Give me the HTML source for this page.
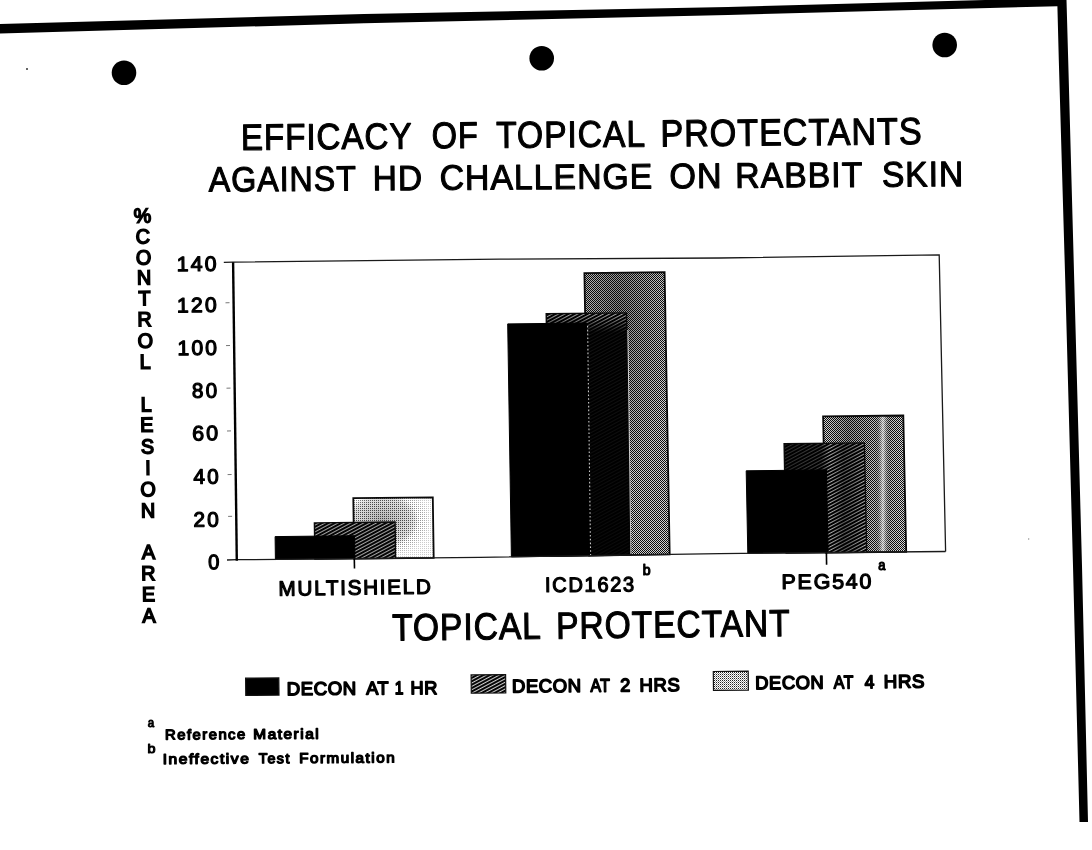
<!DOCTYPE html>
<html lang="en"><head><meta charset="utf-8"><title>Efficacy of Topical Protectants Against HD Challenge on Rabbit Skin</title>
<style>
html,body{margin:0;padding:0;background:#fff;}
body{width:1092px;height:850px;overflow:hidden;position:relative;}
svg{position:absolute;left:0;top:0;display:block;}
text{font-family:"Liberation Sans",sans-serif;fill:#000;}
</style></head>
<body>
<svg width="1092" height="850" viewBox="0 0 1092 850">
<defs>
<pattern id="h1" width="3.0" height="3.0" patternUnits="userSpaceOnUse" patternTransform="rotate(-28)"><rect width="3.0" height="3.0" fill="#fff"/><rect width="3.0" height="2.2" fill="#050505"/></pattern>
<pattern id="h2" width="3.0" height="3.0" patternUnits="userSpaceOnUse" patternTransform="rotate(-28)"><rect width="3.0" height="3.0" fill="#fff"/><rect width="3.0" height="2.0" fill="#000"/></pattern>
<pattern id="h3" width="3.0" height="3.0" patternUnits="userSpaceOnUse" patternTransform="rotate(-28)"><rect width="3.0" height="3.0" fill="#f4f4f4"/><rect width="3.0" height="2.1" fill="#000"/></pattern>
<pattern id="d1" width="2" height="2" patternUnits="userSpaceOnUse"><rect width="2" height="2" fill="#fff"/><rect width="1" height="1" fill="#555"/></pattern>
<pattern id="d2" width="2" height="2" patternUnits="userSpaceOnUse"><rect width="2" height="2" fill="#d0d0d0"/><rect width="1" height="1" fill="#0c0c0c"/><rect x="1" y="1" width="1" height="1" fill="#0c0c0c"/></pattern>
<pattern id="d3" width="2" height="2" patternUnits="userSpaceOnUse"><rect width="2" height="2" fill="#dcdcdc"/><rect width="1" height="1" fill="#0c0c0c"/><rect x="1" y="1" width="1" height="1" fill="#0c0c0c"/></pattern>
<pattern id="d4" width="2" height="2" patternUnits="userSpaceOnUse"><rect width="2" height="2" fill="#fff"/><rect width="1" height="1" fill="#222"/><rect x="1" y="1" width="1" height="1" fill="#999"/></pattern>
<radialGradient id="g1" cx="0.36" cy="0.38" r="0.6"><stop offset="0" stop-color="#000" stop-opacity="0.3"/><stop offset="0.5" stop-color="#000" stop-opacity="0.15"/><stop offset="0.75" stop-color="#fff" stop-opacity="0.3"/><stop offset="1" stop-color="#fff" stop-opacity="0.7"/></radialGradient>
<radialGradient id="g2" cx="0.4" cy="0.15" r="0.6"><stop offset="0" stop-color="#000" stop-opacity="0.35"/><stop offset="1" stop-color="#000" stop-opacity="0.0"/></radialGradient>
<linearGradient id="g3" x1="0" x2="1" y1="0" y2="0"><stop offset="0" stop-color="#000" stop-opacity="0.0"/><stop offset="0.3" stop-color="#000" stop-opacity="0.3"/><stop offset="0.62" stop-color="#000" stop-opacity="0.1"/><stop offset="0.72" stop-color="#fff" stop-opacity="0.6"/><stop offset="0.82" stop-color="#000" stop-opacity="0.1"/><stop offset="1" stop-color="#000" stop-opacity="0.0"/></linearGradient>
<linearGradient id="o2" x1="0" x2="0" y1="0" y2="1"><stop offset="0" stop-color="#000" stop-opacity="0.3"/><stop offset="0.035" stop-color="#000" stop-opacity="0.55"/><stop offset="0.08" stop-color="#000" stop-opacity="0.93"/><stop offset="1" stop-color="#000" stop-opacity="0.96"/></linearGradient>
<linearGradient id="o3" x1="0" x2="1" y1="0" y2="0"><stop offset="0" stop-color="#000" stop-opacity="0.8"/><stop offset="0.45" stop-color="#000" stop-opacity="0.7"/><stop offset="0.56" stop-color="#000" stop-opacity="0.2"/><stop offset="0.72" stop-color="#000" stop-opacity="0.55"/><stop offset="0.86" stop-color="#000" stop-opacity="0.4"/><stop offset="1" stop-color="#000" stop-opacity="0.15"/></linearGradient>
<linearGradient id="o1" x1="0" x2="1" y1="0" y2="0"><stop offset="0" stop-color="#000" stop-opacity="0.2"/><stop offset="1" stop-color="#000" stop-opacity="0.2"/></linearGradient>
</defs>
<rect width="1092" height="850" fill="#fff"/>
<g id="shapes">
<polygon points="0,24 364,14 728,7 985,0 1066.5,0 1068.2,60 1074.3,283 1082,566 1088,822 1079.5,822 1073,566 1065.3,283 1058.8,60 1057.4,6.2 728,15 364,23.3 0,33.5" fill="#000"/>
<circle cx="124" cy="72.7" r="12.3" fill="#000"/>
<circle cx="541.7" cy="58.3" r="12.3" fill="#000"/>
<circle cx="944.7" cy="45" r="12.3" fill="#000"/>
<circle cx="27" cy="69" r="1" fill="#333"/>
<circle cx="1028.7" cy="539" r="0.7" fill="#888"/>
<polygon points="353.3,498.2 432.8,497.3 433.7,557.8 354.1,558.6" fill="url(#d1)"/>
<polygon points="353.3,498.2 432.8,497.3 433.7,557.8 354.1,558.6" fill="url(#g1)" stroke="#0a0a0a" stroke-width="1.8"/>
<polygon points="314.4,522.9 395.1,522.0 395.6,558.2 314.9,559.0" fill="url(#h1)"/>
<polygon points="314.4,522.9 395.1,522.0 395.6,558.2 314.9,559.0" fill="url(#o1)" stroke="#0a0a0a" stroke-width="1.4"/>
<polygon points="275.1,536.6 354.6,535.7 354.9,558.6 275.4,559.3" fill="#000" stroke="#000" stroke-width="1"/>
<polygon points="584.4,273.1 664.6,272.2 669.7,554.4 589.2,555.7" fill="url(#d2)"/>
<polygon points="584.4,273.1 664.6,272.2 669.7,554.4 589.2,555.7" fill="url(#g2)" stroke="#0a0a0a" stroke-width="1.8"/>
<polygon points="546.2,313.8 626.5,312.9 630.7,555.0 550.2,556.3" fill="url(#h2)"/>
<polygon points="546.2,313.8 626.5,312.9 630.7,555.0 550.2,556.3" fill="url(#o2)" stroke="#0a0a0a" stroke-width="1.4"/>
<polygon points="507.7,323.9 586.4,323.0 590.4,555.7 511.4,556.9" fill="#000" stroke="#000" stroke-width="1"/>
<polygon points="823.1,416.4 903.3,415.5 906.2,551.9 825.8,552.6" fill="url(#d3)"/>
<polygon points="823.1,416.4 903.3,415.5 906.2,551.9 825.8,552.6" fill="url(#g3)" stroke="#0a0a0a" stroke-width="1.8"/>
<polygon points="784.1,443.8 864.4,442.9 866.7,552.2 786.2,553.0" fill="url(#h3)"/>
<polygon points="784.1,443.8 864.4,442.9 866.7,552.2 786.2,553.0" fill="url(#o3)" stroke="#0a0a0a" stroke-width="1.4"/>
<polygon points="746.2,470.8 826.4,469.9 828.1,552.6 747.8,553.3" fill="#000" stroke="#000" stroke-width="1"/>
<line x1="587.6" y1="326" x2="590.6" y2="555" stroke="#c8c8c8" stroke-width="1.1" stroke-dasharray="1.6 2.2"/>
<line x1="627.9" y1="330" x2="630.9" y2="554" stroke="#fff" stroke-width="0.9" stroke-opacity="0.85"/>
<polyline points="223.8,262.4 232.8,262.2 500,259.2 720,258 939.2,254.9 945.6,551.5" fill="none" stroke="#1a1a1a" stroke-width="1.3"/>
<polyline points="227.0,560.0 237.0,559.7 480.0,557.4 720.0,553.6 945.6,551.5" fill="none" stroke="#1a1a1a" stroke-width="1.3"/>
<line x1="233.10000000000002" y1="262.2" x2="236.8" y2="560.7" stroke="#000" stroke-width="2.4"/>
<line x1="225.5" y1="302.8" x2="229.5" y2="302.7" stroke="#777" stroke-width="1"/>
<line x1="226.0" y1="345.6" x2="230.0" y2="345.5" stroke="#777" stroke-width="1"/>
<line x1="226.5" y1="388.2" x2="230.5" y2="388.09999999999997" stroke="#777" stroke-width="1"/>
<line x1="227.0" y1="431" x2="231.0" y2="430.9" stroke="#777" stroke-width="1"/>
<line x1="227.6" y1="474.6" x2="231.6" y2="474.5" stroke="#777" stroke-width="1"/>
<line x1="228.1" y1="516.4" x2="232.1" y2="516.3" stroke="#777" stroke-width="1"/>
<line x1="354.3" y1="558.5" x2="354.5" y2="568.6" stroke="#000" stroke-width="1.6"/>
<line x1="826.4" y1="552.5" x2="826.6" y2="564.7" stroke="#000" stroke-width="1.6"/>
<polygon points="245.6,678.2 278.8,677.9 279.0,695.1 245.79999999999998,695.4" fill="#000" stroke="#111" stroke-width="1.2"/>
<polygon points="471.1,674.9 505.6,674.6 505.8,692.9 471.3,693.2" fill="url(#h1)" stroke="#111" stroke-width="1.2"/>
<polygon points="713.3,671.5 748.2,671.2 748.4000000000001,690.1 713.5,690.4" fill="url(#d4)" stroke="#111" stroke-width="1.2"/>
</g>
<g id="ylabel">
<text transform="scale(0.97 1)" font-size="20.3" font-weight="normal" stroke="#000" stroke-width="1.6" rotate="-0.6" x="137.97 140.05 140.09 141.12 142.75 141.71 141.98 144.19 144.19 145.13 144.58 145.41 149.64 144.73 145.48 145.48 146.45 145.70 146.44 147.03" y="222.80 243.40 264.40 284.60 305.30 326.20 347.80 368.70 379.20 411.40 431.80 453.60 474.80 496.30 517.50 528.00 559.00 580.20 601.20 622.40">%CONTROL LESION AREA</text>
</g>
<g id="labels">
<text transform="translate(243.55 149.95) rotate(-0.490) scale(0.9060 1)" x="-2.87" y="0" font-size="36.7" font-weight="normal" letter-spacing="1.0" stroke="#000" stroke-width="1.1" stroke-linejoin="round">EFFICACY</text>
<text transform="translate(433.15 148.34) rotate(-0.499) scale(0.8820 1)" x="-1.73" y="0" font-size="37.0" font-weight="normal" letter-spacing="1.0" stroke="#000" stroke-width="1.1" stroke-linejoin="round">OF</text>
<text transform="translate(496.75 147.80) rotate(-0.491) scale(0.9040 1)" x="-0.58" y="0" font-size="37.27" font-weight="normal" letter-spacing="1.0" stroke="#000" stroke-width="1.1" stroke-linejoin="round">TOPICAL</text>
<text transform="translate(663.15 146.38) rotate(-0.489) scale(0.9054 1)" x="-2.95" y="0" font-size="37.8" font-weight="normal" letter-spacing="1.0" stroke="#000" stroke-width="1.1" stroke-linejoin="round">PROTECTANTS</text>
<text transform="translate(208.75 191.55) rotate(-0.421) scale(0.9235 1)" x="0.00" y="0" font-size="34.96" font-weight="normal" letter-spacing="1.0" stroke="#000" stroke-width="1.1" stroke-linejoin="round">AGAINST</text>
<text transform="translate(375.45 190.33) rotate(-0.428) scale(0.9566 1)" x="-2.74" y="0" font-size="35.05" font-weight="normal" letter-spacing="1.0" stroke="#000" stroke-width="1.1" stroke-linejoin="round">HD</text>
<text transform="translate(441.25 189.85) rotate(-0.420) scale(0.9628 1)" x="-1.65" y="0" font-size="35.17" font-weight="normal" letter-spacing="1.0" stroke="#000" stroke-width="1.1" stroke-linejoin="round">CHALLENGE</text>
<text transform="translate(671.05 188.18) rotate(-0.428) scale(0.9676 1)" x="-1.65" y="0" font-size="35.29" font-weight="normal" letter-spacing="1.0" stroke="#000" stroke-width="1.1" stroke-linejoin="round">ON</text>
<text transform="translate(737.95 187.69) rotate(-0.422) scale(0.9569 1)" x="-2.76" y="0" font-size="35.37" font-weight="normal" letter-spacing="1.0" stroke="#000" stroke-width="1.1" stroke-linejoin="round">RABBIT</text>
<text transform="translate(882.95 186.63) rotate(-0.424) scale(0.9501 1)" x="-1.11" y="0" font-size="35.47" font-weight="normal" letter-spacing="1.0" stroke="#000" stroke-width="1.1" stroke-linejoin="round">SKIN</text>
<text transform="translate(392.65 640.45) rotate(-0.635) scale(0.8973 1)" x="-0.59" y="0" font-size="37.56" font-weight="normal" letter-spacing="1.0" stroke="#000" stroke-width="1.1" stroke-linejoin="round">TOPICAL</text>
<text transform="translate(558.85 638.62) rotate(-0.633) scale(0.8924 1)" x="-2.95" y="0" font-size="37.71" font-weight="normal" letter-spacing="1.0" stroke="#000" stroke-width="1.1" stroke-linejoin="round">PROTECTANT</text>
<text transform="translate(178.20 271.20) rotate(-0.650) scale(1.0264 1)" x="-1.50" y="0" font-size="20.8" font-weight="normal" letter-spacing="2.1" stroke="#000" stroke-width="1.2" stroke-linejoin="round">140</text>
<text transform="translate(178.60 312.40) rotate(-0.650) scale(1.0209 1)" x="-1.50" y="0" font-size="20.8" font-weight="normal" letter-spacing="2.1" stroke="#000" stroke-width="1.2" stroke-linejoin="round">120</text>
<text transform="translate(179.00 355.20) rotate(-0.651) scale(1.0182 1)" x="-1.50" y="0" font-size="20.8" font-weight="normal" letter-spacing="2.1" stroke="#000" stroke-width="1.2" stroke-linejoin="round">100</text>
<text transform="translate(193.00 397.80) rotate(-0.663) scale(0.9929 1)" x="-0.90" y="0" font-size="20.8" font-weight="normal" letter-spacing="2.1" stroke="#000" stroke-width="1.2" stroke-linejoin="round">80</text>
<text transform="translate(193.20 440.50) rotate(-0.661) scale(1.0313 1)" x="-1.00" y="0" font-size="20.8" font-weight="normal" letter-spacing="2.1" stroke="#000" stroke-width="1.2" stroke-linejoin="round">60</text>
<text transform="translate(194.00 483.80) rotate(-0.662) scale(0.9972 1)" x="-0.40" y="0" font-size="20.8" font-weight="normal" letter-spacing="2.1" stroke="#000" stroke-width="1.2" stroke-linejoin="round">40</text>
<text transform="translate(194.60 526.80) rotate(-0.662) scale(1.0057 1)" x="-1.00" y="0" font-size="20.8" font-weight="normal" letter-spacing="2.1" stroke="#000" stroke-width="1.2" stroke-linejoin="round">20</text>
<text transform="translate(209.00 569.20) rotate(-0.708) scale(0.9701 1)" x="-0.80" y="0" font-size="20.8" font-weight="normal" letter-spacing="2.1" stroke="#000" stroke-width="1.2" stroke-linejoin="round">0</text>
<text transform="translate(280.30 595.70) rotate(-0.764) scale(0.9970 1)" x="-1.70" y="0" font-size="20.8" font-weight="normal" letter-spacing="1.7" stroke="#000" stroke-width="1.2" stroke-linejoin="round">MULTISHIELD</text>
<text transform="translate(546.90 592.10) rotate(-0.530) scale(0.9663 1)" x="-1.90" y="0" font-size="20.8" font-weight="normal" letter-spacing="1.7" stroke="#000" stroke-width="1.2" stroke-linejoin="round">ICD1623</text>
<text transform="translate(783.30 589.10) rotate(-0.524) scale(1.0324 1)" x="-1.70" y="0" font-size="20.8" font-weight="normal" letter-spacing="1.7" stroke="#000" stroke-width="1.2" stroke-linejoin="round">PEG540</text>
<text transform="translate(643.60 575.20) rotate(0.000) scale(0.9420 1)" x="-0.90" y="0" font-size="15" font-weight="normal" stroke="#000" stroke-width="1.2" stroke-linejoin="round">b</text>
<text transform="translate(878.65 569.60) rotate(0.000) scale(0.8600 1)" x="-0.60" y="0" font-size="15" font-weight="normal" stroke="#000" stroke-width="1.2" stroke-linejoin="round">a</text>
<text transform="translate(288.15 695.15) rotate(-0.428) scale(1.0113 1)" x="-1.50" y="0" font-size="18.4" font-weight="normal" letter-spacing="0.6" stroke="#000" stroke-width="1.5" stroke-linejoin="round">DECON</text>
<text transform="translate(366.25 694.58) rotate(-0.447) scale(0.9863 1)" x="0.00" y="0" font-size="18.4" font-weight="normal" letter-spacing="0.6" stroke="#000" stroke-width="1.5" stroke-linejoin="round">AT</text>
<text transform="translate(395.96 694.36) rotate(-0.546) scale(0.8600 1)" x="-1.40" y="0" font-size="18.4" font-weight="normal" letter-spacing="0.6" stroke="#000" stroke-width="1.5" stroke-linejoin="round">1</text>
<text transform="translate(412.05 694.25) rotate(-0.444) scale(0.9925 1)" x="-1.50" y="0" font-size="18.4" font-weight="normal" letter-spacing="0.6" stroke="#000" stroke-width="1.5" stroke-linejoin="round">HR</text>
<text transform="translate(513.45 692.55) rotate(-0.527) scale(1.0052 1)" x="-1.50" y="0" font-size="18.4" font-weight="normal" letter-spacing="0.6" stroke="#000" stroke-width="1.5" stroke-linejoin="round">DECON</text>
<text transform="translate(590.45 691.86) rotate(-0.556) scale(0.8614 1)" x="0.00" y="0" font-size="18.4" font-weight="normal" letter-spacing="0.6" stroke="#000" stroke-width="1.5" stroke-linejoin="round">AT</text>
<text transform="translate(621.15 691.58) rotate(-0.608) scale(0.9883 1)" x="-0.90" y="0" font-size="18.4" font-weight="normal" letter-spacing="0.6" stroke="#000" stroke-width="1.5" stroke-linejoin="round">2</text>
<text transform="translate(640.95 691.40) rotate(-0.536) scale(1.0086 1)" x="-1.50" y="0" font-size="18.4" font-weight="normal" letter-spacing="0.6" stroke="#000" stroke-width="1.5" stroke-linejoin="round">HRS</text>
<text transform="translate(756.75 689.35) rotate(-0.627) scale(0.9961 1)" x="-1.50" y="0" font-size="18.4" font-weight="normal" letter-spacing="0.6" stroke="#000" stroke-width="1.5" stroke-linejoin="round">DECON</text>
<text transform="translate(833.75 688.53) rotate(-0.661) scale(0.8614 1)" x="0.00" y="0" font-size="18.4" font-weight="normal" letter-spacing="0.6" stroke="#000" stroke-width="1.5" stroke-linejoin="round">AT</text>
<text transform="translate(865.15 688.19) rotate(-0.718) scale(0.9463 1)" x="-0.40" y="0" font-size="18.4" font-weight="normal" letter-spacing="0.6" stroke="#000" stroke-width="1.5" stroke-linejoin="round">4</text>
<text transform="translate(885.35 687.97) rotate(-0.637) scale(1.0192 1)" x="-1.50" y="0" font-size="18.4" font-weight="normal" letter-spacing="0.6" stroke="#000" stroke-width="1.5" stroke-linejoin="round">HRS</text>
<text transform="translate(148.20 727.40) rotate(0.000) scale(0.9231 1)" x="-0.50" y="0" font-size="12.5" font-weight="normal" stroke="#000" stroke-width="1.0" stroke-linejoin="round">a</text>
<text transform="translate(166.25 739.55) rotate(-0.349) scale(1.0451 1)" x="-1.10" y="0" font-size="14.2" font-weight="normal" letter-spacing="1.4" stroke="#000" stroke-width="1.3" stroke-linejoin="round">Reference</text>
<text transform="translate(254.55 739.02) rotate(-0.351) scale(1.0831 1)" x="-1.10" y="0" font-size="14.2" font-weight="normal" letter-spacing="1.4" stroke="#000" stroke-width="1.3" stroke-linejoin="round">Material</text>
<text transform="translate(148.37 753.10) rotate(0.000) scale(1.1500 1)" x="-0.80" y="0" font-size="12.5" font-weight="normal" stroke="#000" stroke-width="1.0" stroke-linejoin="round">b</text>
<text transform="translate(164.05 763.95) rotate(-0.378) scale(1.0997 1)" x="-1.30" y="0" font-size="14.2" font-weight="normal" letter-spacing="1.4" stroke="#000" stroke-width="1.3" stroke-linejoin="round">Ineffective</text>
<text transform="translate(259.15 763.33) rotate(-0.388) scale(1.0101 1)" x="-0.30" y="0" font-size="14.2" font-weight="normal" letter-spacing="1.4" stroke="#000" stroke-width="1.3" stroke-linejoin="round">Test</text>
<text transform="translate(300.35 763.06) rotate(-0.378) scale(1.0739 1)" x="-1.10" y="0" font-size="14.2" font-weight="normal" letter-spacing="1.4" stroke="#000" stroke-width="1.3" stroke-linejoin="round">Formulation</text>
</g>
</svg>
</body></html>
